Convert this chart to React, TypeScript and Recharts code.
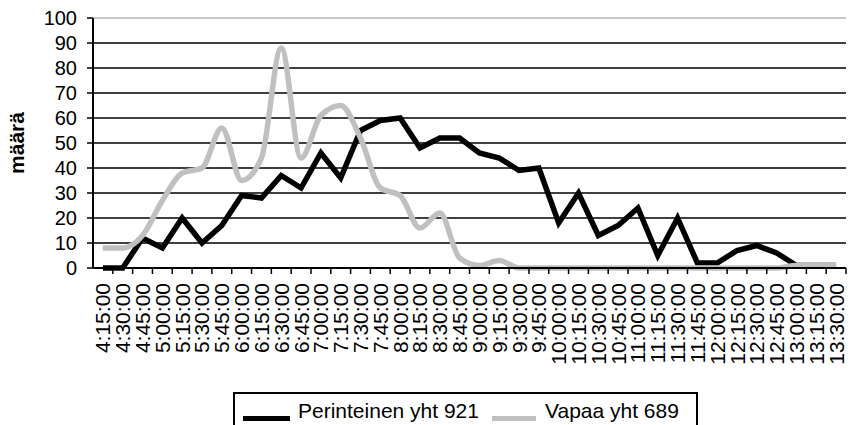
import React from 'react';
import { LineChart, Line, XAxis, YAxis, CartesianGrid, ReferenceLine } from 'recharts';

// --- data ---
const times = [
  '4:15:00', '4:30:00', '4:45:00', '5:00:00', '5:15:00', '5:30:00', '5:45:00', '6:00:00',
  '6:15:00', '6:30:00', '6:45:00', '7:00:00', '7:15:00', '7:30:00', '7:45:00', '8:00:00',
  '8:15:00', '8:30:00', '8:45:00', '9:00:00', '9:15:00', '9:30:00', '9:45:00', '10:00:00',
  '10:15:00', '10:30:00', '10:45:00', '11:00:00', '11:15:00', '11:30:00', '11:45:00', '12:00:00',
  '12:15:00', '12:30:00', '12:45:00', '13:00:00', '13:15:00', '13:30:00',
];

const perinteinen = [
  0, 0, 12, 8, 20, 10, 17, 29, 28, 37,
  32, 46, 36, 55, 59, 60, 48, 52, 52, 46,
  44, 39, 40, 18, 30, 13, 17, 24, 5, 20,
  2, 2, 7, 9, 6, 1, 1, 1,
];

const vapaa = [
  8, 8, 13, 27, 38, 40, 56, 35, 44, 88,
  44, 61, 65, 52, 32, 29, 16, 22, 4, 1,
  3, 0, 0, 0, 0, 0, 0, 0, 0, 0,
  0, 0, 0, 0, 0, 1, 1, 1,
];

const yTicks = [0, 10, 20, 30, 40, 50, 60, 70, 80, 90, 100];

const seriesNames = ['Perinteinen yht 921', 'Vapaa yht 689'];

// --- layout ---
const W = 851;
const H = 425;
const X_AXIS_H = 157;
const Y_AXIS_W = 93;
const MARGIN = { top: 18, right: 5, bottom: 0, left: 0 };
const PLOT_W = W - MARGIN.left - MARGIN.right - Y_AXIS_W;
const STEP = PLOT_W / times.length;
const FONT = "'Liberation Sans', Arial, sans-serif";

const data = times.map((t, i) => ({ t, perinteinen: perinteinen[i], vapaa: vapaa[i] }));

const XTick = ({ x, y, payload }: any) => (
  <g transform={`translate(${x},${y})`}>
    <line x1={STEP / 2} x2={STEP / 2} y1={0} y2={6} stroke="#000" strokeWidth={1.5} />
    <text
      transform="rotate(-90)"
      x={-15}
      y={0}
      textAnchor="end"
      dominantBaseline="central"
      fontSize={21}
      fill="#000"
    >
      {payload.value}
    </text>
  </g>
);

const YLabel = ({ viewBox }: any) => {
  const cx = viewBox.x + 16;
  const cy = viewBox.y + viewBox.height / 2;
  return (
    <text
      x={cx}
      y={cy}
      transform={`rotate(-90 ${cx} ${cy})`}
      textAnchor="middle"
      dominantBaseline="central"
      fontSize={21}
      fontWeight="bold"
      fill="#000"
    >
      määrä
    </text>
  );
};

const LegendBox = () => (
  <div
    style={{
      position: 'absolute',
      left: 233,
      top: 392,
      width: 465,
      height: 50,
      border: '2px solid #000',
      boxSizing: 'border-box',
      background: '#fff',
      fontSize: 21,
      color: '#000',
    }}
  >
    <div style={{ position: 'absolute', left: 8, top: 22, width: 47, height: 5, background: '#000' }} />
    <div style={{ position: 'absolute', left: 63, top: 5, whiteSpace: 'nowrap' }}>{seriesNames[0]}</div>
    <div style={{ position: 'absolute', left: 257, top: 22, width: 44, height: 5, background: '#c0c0c0' }} />
    <div style={{ position: 'absolute', left: 310, top: 5, whiteSpace: 'nowrap' }}>{seriesNames[1]}</div>
  </div>
);

export default function App() {
  return (
    <div style={{ position: 'absolute', left: 0, top: 0, width: W, height: H, fontFamily: FONT, background: '#fff', overflow: 'hidden' }}>
      <LineChart width={W} height={H} data={data} margin={MARGIN}>
        <CartesianGrid vertical={false} stroke="#000" strokeWidth={1.5} />
        <ReferenceLine y={100} stroke="#c8c8c8" strokeWidth={2} />
        <XAxis
          dataKey="t"
          interval={0}
          padding={{ left: STEP / 2, right: STEP / 2 }}
          axisLine={{ stroke: '#000', strokeWidth: 2 }}
          tickLine={false}
          tickSize={0}
          tickMargin={0}
          tick={<XTick />}
          height={X_AXIS_H}
        />
        <YAxis
          width={Y_AXIS_W}
          domain={[0, 100]}
          ticks={yTicks}
          interval={0}
          axisLine={{ stroke: '#000', strokeWidth: 2 }}
          tickLine={{ stroke: '#000', strokeWidth: 1.5 }}
          tickSize={6}
          tickMargin={10}
          tick={{ fontSize: 20, fill: '#000' }}
          label={<YLabel />}
        />
        <Line
          dataKey="perinteinen"
          name={seriesNames[0]}
          type="linear"
          stroke="#000"
          strokeWidth={5.5}
          dot={false}
          isAnimationActive={false}
        />
        <Line
          dataKey="vapaa"
          name={seriesNames[1]}
          type="monotone"
          stroke="#c0c0c0"
          strokeWidth={5.5}
          dot={false}
          isAnimationActive={false}
        />
      </LineChart>
      <LegendBox />
    </div>
  );
}
